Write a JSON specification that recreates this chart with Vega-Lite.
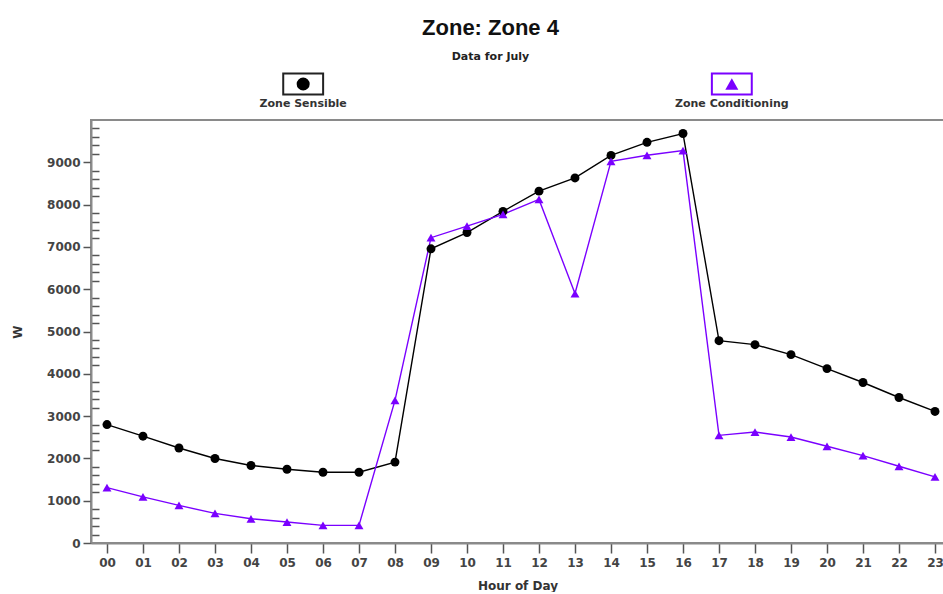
{
  "$schema": "https://vega.github.io/schema/vega-lite/v6.json",
  "background": "white",
  "padding": {"left": 10, "top": 17, "right": 0, "bottom": 0},
  "bounds": "flush",
  "title": {
    "text": "Zone: Zone 4",
    "subtitle": "Data for July",
    "anchor": "middle",
    "frame": "group",
    "font": "Liberation Sans",
    "fontSize": 22,
    "fontWeight": "bold",
    "color": "#111111",
    "subtitleFont": "DejaVu Sans",
    "subtitleFontSize": 11,
    "subtitleFontWeight": "bold",
    "subtitleColor": "#222222",
    "subtitlePadding": 11,
    "offset": 6,
    "dx": -27
  },
  "datasets": {
    "legend": [
      {"series": "Zone Sensible"},
      {"series": "Zone Conditioning"}
    ],
    "main": [
      {"hour": 0, "series": "Zone Sensible", "W": 2800},
      {"hour": 1, "series": "Zone Sensible", "W": 2525},
      {"hour": 2, "series": "Zone Sensible", "W": 2245},
      {"hour": 3, "series": "Zone Sensible", "W": 1998},
      {"hour": 4, "series": "Zone Sensible", "W": 1833},
      {"hour": 5, "series": "Zone Sensible", "W": 1744},
      {"hour": 6, "series": "Zone Sensible", "W": 1673},
      {"hour": 7, "series": "Zone Sensible", "W": 1673},
      {"hour": 8, "series": "Zone Sensible", "W": 1912},
      {"hour": 9, "series": "Zone Sensible", "W": 6955},
      {"hour": 10, "series": "Zone Sensible", "W": 7340},
      {"hour": 11, "series": "Zone Sensible", "W": 7840},
      {"hour": 12, "series": "Zone Sensible", "W": 8318},
      {"hour": 13, "series": "Zone Sensible", "W": 8630},
      {"hour": 14, "series": "Zone Sensible", "W": 9162},
      {"hour": 15, "series": "Zone Sensible", "W": 9472},
      {"hour": 16, "series": "Zone Sensible", "W": 9680},
      {"hour": 17, "series": "Zone Sensible", "W": 4783},
      {"hour": 18, "series": "Zone Sensible", "W": 4689},
      {"hour": 19, "series": "Zone Sensible", "W": 4453},
      {"hour": 20, "series": "Zone Sensible", "W": 4123},
      {"hour": 21, "series": "Zone Sensible", "W": 3794},
      {"hour": 22, "series": "Zone Sensible", "W": 3440},
      {"hour": 23, "series": "Zone Sensible", "W": 3110},
      {"hour": 0, "series": "Zone Conditioning", "W": 1310},
      {"hour": 1, "series": "Zone Conditioning", "W": 1090},
      {"hour": 2, "series": "Zone Conditioning", "W": 888},
      {"hour": 3, "series": "Zone Conditioning", "W": 700},
      {"hour": 4, "series": "Zone Conditioning", "W": 573},
      {"hour": 5, "series": "Zone Conditioning", "W": 495},
      {"hour": 6, "series": "Zone Conditioning", "W": 417},
      {"hour": 7, "series": "Zone Conditioning", "W": 417},
      {"hour": 8, "series": "Zone Conditioning", "W": 3370},
      {"hour": 9, "series": "Zone Conditioning", "W": 7218},
      {"hour": 10, "series": "Zone Conditioning", "W": 7493},
      {"hour": 11, "series": "Zone Conditioning", "W": 7768},
      {"hour": 12, "series": "Zone Conditioning", "W": 8122},
      {"hour": 13, "series": "Zone Conditioning", "W": 5898},
      {"hour": 14, "series": "Zone Conditioning", "W": 9024},
      {"hour": 15, "series": "Zone Conditioning", "W": 9166},
      {"hour": 16, "series": "Zone Conditioning", "W": 9276},
      {"hour": 17, "series": "Zone Conditioning", "W": 2545},
      {"hour": 18, "series": "Zone Conditioning", "W": 2623},
      {"hour": 19, "series": "Zone Conditioning", "W": 2505},
      {"hour": 20, "series": "Zone Conditioning", "W": 2286},
      {"hour": 21, "series": "Zone Conditioning", "W": 2066},
      {"hour": 22, "series": "Zone Conditioning", "W": 1814},
      {"hour": 23, "series": "Zone Conditioning", "W": 1563}
    ]
  },
  "spacing": 21,
  "vconcat": [
    {
      "width": 853,
      "height": 30,
      "data": {"name": "legend"},
      "encoding": {
        "x": {
          "field": "series",
          "type": "nominal",
          "scale": {"type": "point", "domain": ["Zone Sensible", "Zone Conditioning"], "padding": 0.495},
          "axis": null
        }
      },
      "layer": [
        {
          "mark": {"type": "point", "shape": "M-1.9,-1H1.9V1H-1.9Z", "size": 441, "filled": false, "strokeWidth": 2, "opacity": 1},
          "encoding": {
            "stroke": {
              "field": "series",
              "type": "nominal",
              "scale": {"domain": ["Zone Sensible", "Zone Conditioning"], "range": ["#222222", "#7a00ff"]},
              "legend": null
            }
          }
        },
        {
          "mark": {"type": "point", "filled": true, "opacity": 1, "size": 170},
          "encoding": {
            "shape": {
              "field": "series",
              "type": "nominal",
              "scale": {"domain": ["Zone Sensible", "Zone Conditioning"], "range": ["circle", "triangle-up"]},
              "legend": null
            },
            "color": {
              "field": "series",
              "type": "nominal",
              "scale": {"domain": ["Zone Sensible", "Zone Conditioning"], "range": ["#000000", "#7a00ff"]},
              "legend": null
            }
          }
        },
        {
          "mark": {"type": "text", "dy": 20, "font": "DejaVu Sans", "fontSize": 11, "fontWeight": "bold", "color": "#333333", "baseline": "middle"},
          "encoding": {"text": {"field": "series", "type": "nominal"}}
        }
      ]
    },
    {
      "width": 853,
      "height": 423,
      "view": {"stroke": "#8a8a8a", "strokeWidth": 2},
      "data": {"name": "main"},
      "encoding": {
        "x": {
          "field": "hour",
          "type": "quantitative",
          "scale": {"domain": [-0.444, 23.25], "nice": false, "zero": false},
          "axis": {
            "values": [0, 1, 2, 3, 4, 5, 6, 7, 8, 9, 10, 11, 12, 13, 14, 15, 16, 17, 18, 19, 20, 21, 22, 23],
            "labelExpr": "datum.value < 10 ? '0' + datum.value : '' + datum.value",
            "title": "Hour of Day",
            "titleFont": "DejaVu Sans",
            "titleFontSize": 12,
            "titleFontWeight": "bold",
            "titleColor": "#333333",
            "titlePadding": 12,
            "labelFont": "DejaVu Sans",
            "labelFontSize": 12,
            "labelFontWeight": "bold",
            "labelColor": "#444444",
            "labelPadding": 4,
            "labelFlush": false,
            "labelOverlap": false,
            "tickSize": 10,
            "tickColor": "#555555",
            "tickWidth": 1.5,
            "domainColor": "#8a8a8a",
            "domainWidth": 2,
            "grid": false
          }
        },
        "color": {
          "field": "series",
          "type": "nominal",
          "scale": {"domain": ["Zone Sensible", "Zone Conditioning"], "range": ["#111111", "#7a00ff"]},
          "legend": null
        }
      },
      "layer": [
        {
          "mark": {"type": "line", "strokeWidth": 1.4},
          "encoding": {
            "y": {
              "field": "W",
              "type": "quantitative",
              "scale": {"domain": [0, 10000], "nice": false},
              "axis": {
                "orient": "left",
                "values": [200, 400, 600, 800, 1200, 1400, 1600, 1800, 2200, 2400, 2600, 2800, 3200, 3400, 3600, 3800, 4200, 4400, 4600, 4800, 5200, 5400, 5600, 5800, 6200, 6400, 6600, 6800, 7200, 7400, 7600, 7800, 8200, 8400, 8600, 8800, 9200, 9400, 9600, 9800],
                "labels": false,
                "domain": false,
                "title": null,
                "grid": false,
                "tickSize": -8,
                "tickColor": "#555555",
                "tickWidth": 1.5
              }
            }
          }
        },
        {
          "mark": {"type": "point", "filled": true, "opacity": 1, "size": 80},
          "encoding": {
            "y": {
              "field": "W",
              "type": "quantitative",
              "scale": {"domain": [0, 10000], "nice": false},
              "axis": {
                "orient": "left",
                "values": [0, 1000, 2000, 3000, 4000, 5000, 6000, 7000, 8000, 9000],
                "format": "d",
                "title": "W",
                "titleFont": "DejaVu Sans",
                "titleFontSize": 12,
                "titleFontWeight": "bold",
                "titleColor": "#333333",
                "titlePadding": 22,
                "labelFont": "DejaVu Sans",
                "labelFontSize": 12,
                "labelFontWeight": "bold",
                "labelColor": "#444444",
                "labelPadding": 3,
                "tickSize": 8,
                "tickColor": "#555555",
                "tickWidth": 1.5,
                "domainColor": "#8a8a8a",
                "domainWidth": 2,
                "grid": false
              }
            },
            "shape": {
              "field": "series",
              "type": "nominal",
              "scale": {"domain": ["Zone Sensible", "Zone Conditioning"], "range": ["circle", "triangle-up"]},
              "legend": null
            }
          }
        }
      ],
      "resolve": {"axis": {"y": "independent"}}
    }
  ],
  "config": {"view": {"stroke": null}, "font": "DejaVu Sans"}
}
